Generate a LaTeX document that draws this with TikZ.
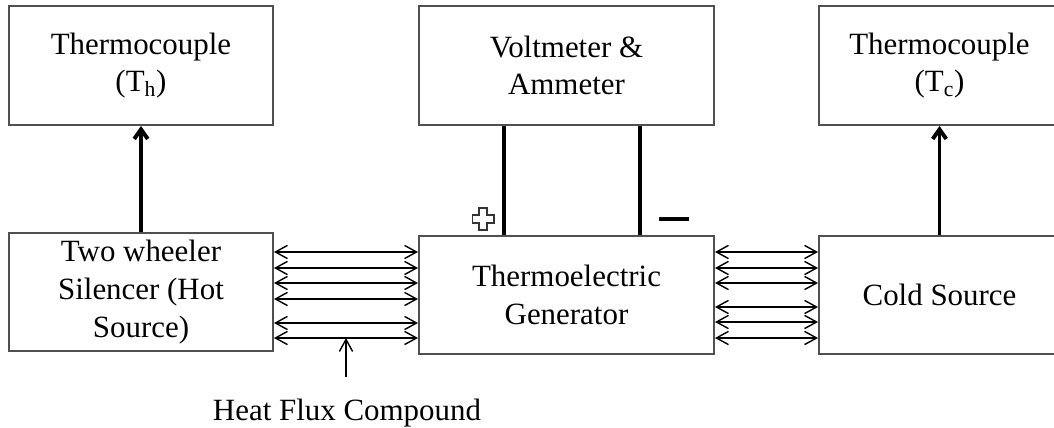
\documentclass[tikz,border=0pt]{standalone}
\usepackage{fontspec}
\setmainfont{Liberation Serif}
\newfontfamily\symfont{DejaVu Sans}
\usetikzlibrary{calc, positioning, arrows.meta}
\definecolor{boxline}{RGB}{80, 80, 80}

\begin{document}
\begin{tikzpicture}[
  font=\fontsize{22}{26.8}\selectfont,
  unit/.style={rectangle, draw=boxline, line width=1.4pt, align=center, inner sep=0pt},
  flux/.style={{Straight Barb[length=3mm, width=3.3mm]}-{Straight Barb[length=3mm, width=3.3mm]}, line width=1pt},
  sense/.style={-{Straight Barb[length=2.4mm, width=3.4mm]}, line width=2.8pt},
  wire/.style={line width=2.8pt}
]
  \useasboundingbox (0,0) rectangle (26.35,10.675);
  \clip (0,0) rectangle (26.35,10.675);

  \node[unit, minimum width=6.6cm, minimum height=2.975cm] (th) at (3.525,9.0375) {Thermocouple\\(T\textsubscript{h})};
  \node[unit, minimum width=7.375cm, minimum height=2.975cm] (meter) at (14.1625,9.0375) {Voltmeter \&\\Ammeter};
  \node[unit, minimum width=6.025cm, minimum height=2.975cm] (tc) at (23.4875,9.0375) {Thermocouple\\(T\textsubscript{c})};

  \node[unit, minimum width=6.6cm, minimum height=2.95cm] (hot) at (3.525,3.375) {Two wheeler\\Silencer (Hot\\Source)};
  \node[unit, minimum width=7.375cm, minimum height=2.95cm] (teg) at (14.1625,3.3) {Thermoelectric\\Generator};
  \node[unit, minimum width=6.025cm, minimum height=2.95cm] (cold) at (23.4875,3.3) {Cold Source};

  % heat transfer through the compound
  \foreach \y in {4.375, 3.975, 3.6, 3.2, 2.6, 2.225}
    \draw[flux] (hot.east |- 0,\y) -- (teg.west |- 0,\y);
  \foreach \y in {4.375, 3.975, 3.6, 3.0, 2.625, 2.225}
    \draw[flux] (teg.east |- 0,\y) -- (cold.west |- 0,\y);

  % temperature readings
  \draw[sense] (hot) -- (th);
  \draw[sense] (cold) -- (tc);

  % output leads
  \draw[wire] (meter.south -| 12.6,0) -- (teg.north -| 12.6,0);
  \draw[wire] (meter.south -| 16.0,0) -- (teg.north -| 16.0,0);
  \coordinate (plus) at (12.075,5.2);
  \draw[shift={(plus)}, line width=1pt, black!80]
    (-0.1,0.28) -- (0.1,0.28) -- (0.1,0.1) -- (0.27,0.1) -- (0.27,-0.1) -- (0.1,-0.1)
    -- (0.1,-0.28) -- (-0.1,-0.28) -- (-0.1,-0.1) -- (-0.27,-0.1) -- (-0.27,0.1) -- (-0.1,0.1) -- cycle;
  \node[inner sep=0pt] (minus) at (16.875,5.025) {\symfont\fontsize{34}{34}\selectfont −};

  \node[anchor=base, inner sep=0pt] (hfc) at (8.675,0.175) {Heat Flux Compound};
  \coordinate (hfcfoot) at (8.65,1.25);
  \coordinate (hfctip) at (8.65,2.225);
  \draw[-{Straight Barb[length=3mm, width=3.3mm]}, line width=1pt] (hfcfoot) -- (hfctip);
\end{tikzpicture}
\end{document}
